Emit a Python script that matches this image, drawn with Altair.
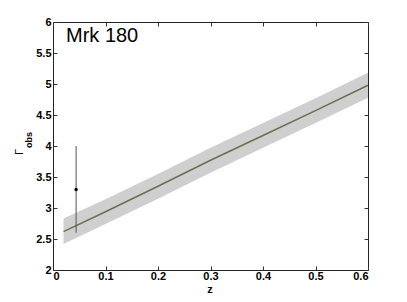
import altair as alt
import pandas as pd

# model curve
z = [0.02, 0.1, 0.2, 0.3, 0.4, 0.5, 0.6]
gamma = [2.62, 2.94, 3.35, 3.77, 4.17, 4.57, 4.98]
upper = [2.83, 3.14, 3.55, 3.97, 4.37, 4.77, 5.18]
lower = [2.42, 2.74, 3.15, 3.57, 3.97, 4.37, 4.78]

# observed point
obs_z = [0.044]
obs_g = [3.3]
obs_lo = [2.6]
obs_hi = [4.0]

x_ticks = [0, 0.1, 0.2, 0.3, 0.4, 0.5, 0.6]
y_ticks = [2, 2.5, 3, 3.5, 4, 4.5, 5, 5.5, 6]

W, H = 315, 248
FONT = "Liberation Sans"

curve = pd.DataFrame({"z": z, "g": gamma, "lo": lower, "hi": upper})
obs = pd.DataFrame({"z": obs_z, "g": obs_g, "lo": obs_lo, "hi": obs_hi})

xs = alt.Scale(domain=[0, 0.6], nice=False, zero=False)
ys = alt.Scale(domain=[2, 6], nice=False, zero=False)

lab = dict(labelFont=FONT, labelFontSize=11, labelFontWeight="bold", labelColor="#000",
           domain=False, ticks=False, grid=False, title=None)
tick = dict(labels=False, domain=False, grid=False, title=None, ticks=True,
            tickSize=4, tickColor="#333", tickWidth=1)

band = alt.Chart(curve).mark_area(color="#cfcfcf", opacity=1).encode(
    x=alt.X("z:Q", scale=xs, axis=alt.Axis(orient="bottom", values=x_ticks, labelPadding=0,
                                           labelExpr="datum.value == 0 ? '0' : format(datum.value, '.1f')", **lab)),
    y=alt.Y("lo:Q", scale=ys, axis=alt.Axis(orient="left", values=y_ticks, labelPadding=2,
                                           labelExpr="format(datum.value, '.2~f')", **lab)),
    y2="hi:Q",
)

line = alt.Chart(curve).mark_line(color="#6e6e4e", strokeWidth=1.5).encode(
    x=alt.X("z:Q", scale=xs, axis=alt.Axis(orient="top", offset=-H, values=x_ticks, **tick)),
    y=alt.Y("g:Q", scale=ys, axis=alt.Axis(orient="right", offset=-W, values=y_ticks, **tick)),
)

err = alt.Chart(obs).mark_rule(color="#555", strokeWidth=1).encode(
    x=alt.X("z:Q", scale=xs, axis=alt.Axis(orient="bottom", offset=-H, values=x_ticks, **tick)),
    y=alt.Y("lo:Q", scale=ys, axis=alt.Axis(orient="left", offset=-W, values=y_ticks, **tick)),
    y2="hi:Q",
)

pt = alt.Chart(obs).mark_point(filled=True, color="#000", size=12, opacity=1).encode(
    x=alt.X("z:Q", scale=xs, axis=None),
    y=alt.Y("g:Q", scale=ys, axis=None),
)

title = alt.Chart(pd.DataFrame({"t": ["Mrk 180"]})).mark_text(
    font=FONT, fontSize=20, align="left", baseline="alphabetic", color="#000"
).encode(x=alt.value(13), y=alt.value(20), text="t:N")

gam = alt.Chart(pd.DataFrame({"t": ["Γ"]})).mark_text(
    font=FONT, fontSize=11, align="center", baseline="middle", angle=270, color="#000"
).encode(x=alt.value(-33), y=alt.value(130), text="t:N")

sub = alt.Chart(pd.DataFrame({"t": ["obs"]})).mark_text(
    font=FONT, fontSize=9, fontWeight="bold", align="center", baseline="middle", angle=270, color="#000"
).encode(x=alt.value(-24), y=alt.value(118), text="t:N")

zlab = alt.Chart(pd.DataFrame({"t": ["z"]})).mark_text(
    font=FONT, fontSize=11, fontWeight="bold", align="center", baseline="middle", color="#000"
).encode(x=alt.value(157), y=alt.value(268), text="t:N")

chart = alt.layer(band, line, err, pt, title, gam, sub, zlab).resolve_axis(
    x="independent", y="independent"
).properties(
    width=W, height=H,
    autosize=alt.AutoSizeParams(type="none"),
    padding={"left": 45, "top": 14, "right": 20, "bottom": 24},
).configure_view(stroke="#222", strokeWidth=1)

chart.save("out.html", embed_options={"renderer": "svg", "actions": False})
